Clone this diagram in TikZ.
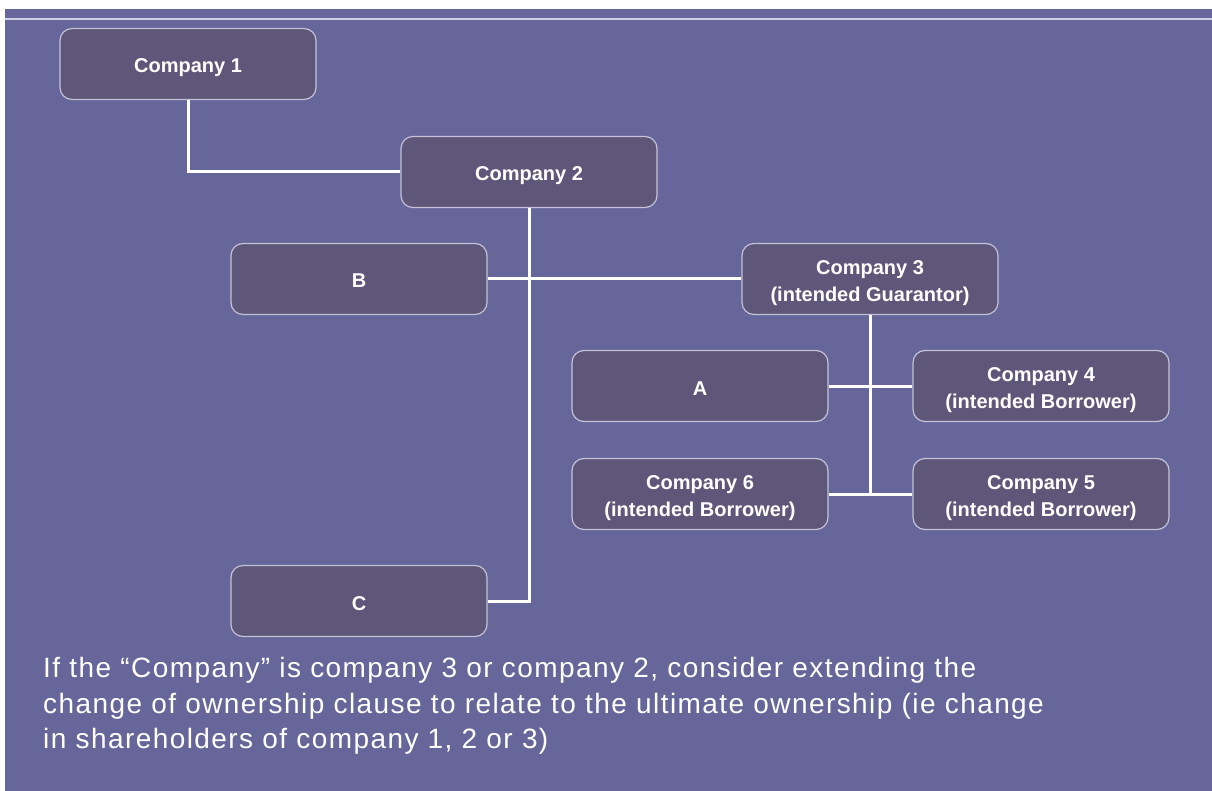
\documentclass[tikz,border=0pt]{standalone}
\usepackage{fontspec}
\setmainfont{Liberation Sans}
\newfontfamily\notefont[LetterSpace=5.1]{Liberation Sans}
\definecolor{slate}{HTML}{66669A}
\definecolor{plum}{HTML}{5F577A}
\definecolor{rim}{HTML}{C4C2D6}
\definecolor{rule}{HTML}{CFCFE6}
\tikzset{
  firm/.style={draw=rim,line width=1.2pt,fill=plum,rounded corners=12pt,
    minimum width=256pt,minimum height=71pt,inner sep=2pt,align=center,
    text height=18pt,text depth=0pt,
    text=white,font=\fontsize{20}{27}\selectfont\bfseries},
  firm2/.style={firm,text height=45pt,text depth=0pt},
  link/.style={draw=white,line width=3pt}
}
\begin{document}
\begin{tikzpicture}[x=1pt,y=-1pt]
\useasboundingbox (0,0) rectangle (1212,791);
\fill[white] (0,0) rectangle (1212,791);
\fill[slate] (5,9) rectangle (1212,791);
\draw[rule,line width=1.5pt] (5,19) -- (1212,19);
% companies
\node[firm] (c1) at (188,64) {Company 1};
\node[firm] (c2) at (529,172) {Company 2};
\node[firm] (b) at (359,279) {B};
\node[firm2] (c3) at (870,279) {Company 3\\(intended Guarantor)};
\node[firm] (a) at (700,386) {A};
\node[firm2] (c4) at (1041,386) {Company 4\\(intended Borrower)};
\node[firm2] (c6) at (700,494) {Company 6\\(intended Borrower)};
\node[firm2] (c5) at (1041,494) {Company 5\\(intended Borrower)};
\node[firm] (cc) at (359,601) {C};
% links
\draw[link] (c1.south) |- (c2.west);
\draw[link] (c2.south) |- (cc.east);
\draw[link] (b.east) -- (c3.west);
\draw[link] (c3.south) -- (c3.south |- c5.west);
\draw[link] (a.east) -- (c4.west);
\draw[link] (c6.east) -- (c5.west);
\node[anchor=north west,inner sep=0pt,text=white,align=left,
  font=\notefont\fontsize{28}{35.5}\selectfont] (note) at (43,657.5)
  {If the “Company” is company 3 or company 2, consider extending the\\
   change of ownership clause to relate to the ultimate ownership (ie change\\
   in shareholders of company 1, 2 or 3)};
\end{tikzpicture}
\end{document}
